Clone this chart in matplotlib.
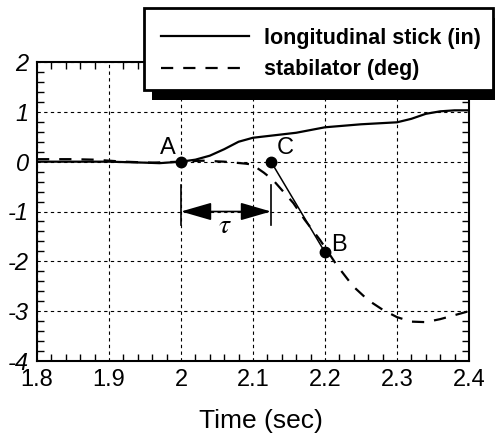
import numpy as np
import matplotlib
matplotlib.use("Agg")
import matplotlib.pyplot as plt
from matplotlib.ticker import MultipleLocator
from matplotlib.patches import Rectangle

plt.rcParams['font.family'] = ['Liberation Sans', 'DejaVu Sans']
plt.rcParams['mathtext.fontset'] = 'stix'

# data
t_stick = [1.8, 1.9, 1.95, 1.97, 2.0, 2.02, 2.04, 2.06, 2.08, 2.1, 2.13,
           2.16, 2.2, 2.25, 2.3, 2.32, 2.34, 2.36, 2.38, 2.4]
stick = [0.0, 0.0, -0.02, -0.03, 0.0, 0.04, 0.12, 0.25, 0.4, 0.48, 0.53,
         0.58, 0.69, 0.75, 0.79, 0.86, 0.96, 1.01, 1.03, 1.03]

t_stab = [1.8, 1.85, 1.88, 1.92, 1.96, 2.0, 2.03, 2.06, 2.09, 2.1, 2.105,
          2.115, 2.128, 2.142, 2.156, 2.172, 2.193, 2.2, 2.216, 2.239, 2.26,
          2.28, 2.3, 2.32, 2.34, 2.36, 2.38, 2.4]
stab = [0.05, 0.05, 0.04, 0.0, -0.02, 0.0, 0.02, 0.0, -0.04, -0.06, -0.12,
        -0.22, -0.37, -0.6, -0.83, -1.17, -1.57, -1.72, -2.07, -2.5, -2.78,
        -2.97, -3.12, -3.21, -3.22, -3.16, -3.08, -3.0]

pt_names = ['A', 'C', 'B']
pt_t = [2.0, 2.125, 2.2]
pt_v = [0.0, 0.0, -1.82]

xticks = [1.8, 1.9, 2.0, 2.1, 2.2, 2.3, 2.4]
xticklabels = ['1.8', '1.9', '2', '2.1', '2.2', '2.3', '2.4']
yticks = [-4, -3, -2, -1, 0, 1, 2]

W, H = 495, 437
fig = plt.figure(figsize=(W / 100, H / 100), dpi=100)
ax = fig.add_axes([37/W, 76/H, 432/W, 299/H])

l1, = ax.plot(t_stick, stick, color='black', lw=1.6,
              label='longitudinal stick (in)')
l2, = ax.plot(t_stab, stab, color='black', lw=1.6, ls=(0, (5.5, 4.5)),
              label='stabilator (deg)')

# line C -> B and marked points
ax.plot(pt_t[1:], pt_v[1:], color='black', lw=1.1)
ax.plot(pt_t, pt_v, 'o', color='black', ms=7.5)
ax.text(pt_t[0] - 0.007, pt_v[0] + 0.05, pt_names[0], ha='right', va='bottom', fontsize=17)
ax.text(pt_t[1] + 0.008, pt_v[1] + 0.05, pt_names[1], ha='left', va='bottom', fontsize=17)
ax.text(pt_t[2] + 0.009, pt_v[2] - 0.07, pt_names[2], ha='left', va='bottom', fontsize=17)

# tau delay marker
for tx in pt_t[:2]:
    ax.plot([tx, tx], [-0.47, -1.27], color='black', lw=1.2)
ax.annotate('', xy=(pt_t[0], -1.0), xytext=(pt_t[1], -1.0),
            arrowprops=dict(arrowstyle='<|-|>,head_length=1.9,head_width=0.55',
                            color='black', lw=1.2, shrinkA=0, shrinkB=0))
ax.text(2.061, -1.3, r'$\tau$', ha='center', va='center', fontsize=20)

ax.set_xlim(1.8, 2.4)
ax.set_ylim(-4, 2)
ax.set_xticks(xticks)
ax.set_xticklabels(xticklabels)
ax.set_yticks(yticks)
ax.set_yticklabels([str(v) for v in yticks], fontstyle='italic')
ax.xaxis.set_minor_locator(MultipleLocator(0.02))
ax.yaxis.set_minor_locator(MultipleLocator(0.2))
ax.tick_params(which='both', direction='in', top=True, right=True,
               labelsize=17, width=1, color='black')
ax.tick_params(which='major', length=0, pad=6)
ax.tick_params(which='minor', length=5)
ax.grid(True, which='major', color='black', lw=0.8, ls=(0, (3, 3)))
for s in ax.spines.values():
    s.set_linewidth(1.5)
ax.set_xlabel('Time (sec)', fontsize=19)
ax.xaxis.set_label_coords(0.519, -0.16)

# legend box with a hard black shadow, drawn in figure pixels
bx0, by0, bx1, by1 = 144, 8, 493, 90
fig.patches.append(Rectangle(((bx0 + 8) / W, 1 - (by1 + 10) / H),
                             (bx1 - bx0) / W, (by1 - by0) / H,
                             transform=fig.transFigure, facecolor='black',
                             edgecolor='none', zorder=4))
fig.patches.append(Rectangle((bx0 / W, 1 - by1 / H),
                             (bx1 - bx0) / W, (by1 - by0) / H,
                             transform=fig.transFigure, facecolor='white',
                             edgecolor='black', lw=2, zorder=5))
leg = fig.legend(handles=[l1, l2], loc='center left',
                 bbox_to_anchor=(161/W, 1 - 54/H), frameon=False,
                 prop={'weight': 'bold', 'size': 15.5}, handlelength=4.1,
                 handletextpad=0.7, borderpad=0, labelspacing=0.5,
                 borderaxespad=0)
leg.set_zorder(6)

fig.savefig('out.png', dpi=100)
